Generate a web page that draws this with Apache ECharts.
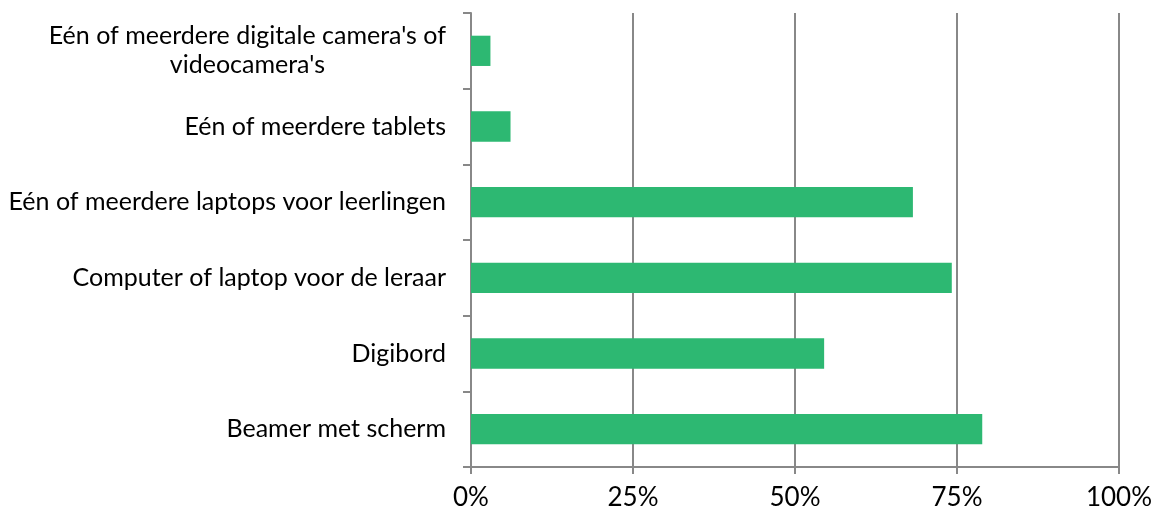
<!DOCTYPE html>
<html>
<head>
<meta charset="utf-8">
<script src="https://cdn.jsdelivr.net/npm/echarts@6/dist/echarts.min.js"></script>
<style>
  html, body { margin: 0; padding: 0; background: #fff; }
  #chart { width: 1155px; height: 519px; }
</style>
</head>
<body>
<div id="chart"></div>
<script>
// categories listed bottom to top
const categories = [
  'Beamer met scherm',
  'Digibord',
  'Computer of laptop voor de leraar',
  'Eén of meerdere laptops voor leerlingen',
  'Eén of meerdere tablets',
  "Eén of meerdere digitale camera's of\nvideocamera's"
];
const values = [78.9, 54.5, 74.2, 68.2, 6.1, 3.0];
const xTicks = [0, 25, 50, 75, 100];

const font = 'Lato';
const chart = echarts.init(document.getElementById('chart'));

chart.setOption({
  animation: false,
  grid: { left: 471, right: 36, top: 13, bottom: 52 },
  xAxis: {
    type: 'value',
    min: xTicks[0],
    max: xTicks[xTicks.length - 1],
    interval: 25,
    axisLine: { show: true, lineStyle: { color: '#888', width: 2 } },
    axisTick: { show: true, length: 7, lineStyle: { color: '#888', width: 2 } },
    splitLine: { show: true, lineStyle: { color: '#888', width: 2 } },
    axisLabel: {
      formatter: v => v + '%',
      fontFamily: font, fontSize: 26, color: '#000', margin: 18
    }
  },
  yAxis: {
    type: 'category',
    data: categories,
    axisLine: { show: true, lineStyle: { color: '#888', width: 2 } },
    axisTick: { show: true, length: 8, lineStyle: { color: '#888', width: 2 } },
    axisLabel: {
      fontFamily: font, fontSize: 25, color: '#000', margin: 25,
      lineHeight: 29,
      formatter: function (v) {
        return v.split('\n').map(s => '{c|' + s + '}').join('\n');
      },
      rich: { c: { align: 'center', fontFamily: font, fontSize: 25, color: '#000', lineHeight: 29 } }
    }
  },
  series: [{
    type: 'bar',
    data: values,
    barCategoryGap: '60%',
    itemStyle: { color: '#2DB872' }
  }]
});
</script>
</body>
</html>
